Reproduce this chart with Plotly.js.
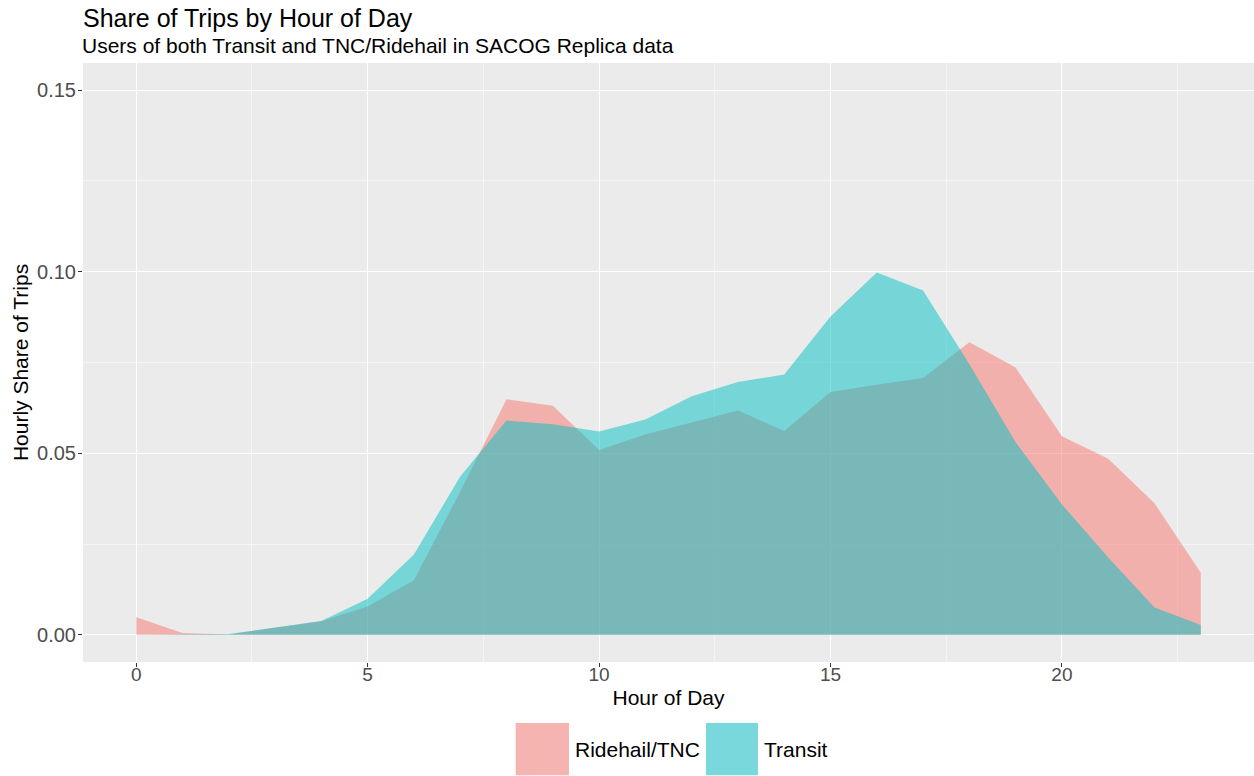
<!DOCTYPE html>
<html>
<head>
<meta charset="utf-8">
<script src="https://cdn.plot.ly/plotly-3.0.1.min.js"></script>
<style>html,body{margin:0;padding:0;background:#fff;}#chart{width:1254px;height:776px;}</style>
</head>
<body>
<div id="chart"></div>
<script>
const hours = [0,1,2,3,4,5,6,7,8,9,10,11,12,13,14,15,16,17,18,19,20,21,22,23];
const seriesNames = ["Ridehail/TNC", "Transit"];
const ridehail = [0.0048,0.0005,0.0001,0.0020,0.0037,0.0078,0.0150,0.0395,0.0649,0.0631,0.0509,0.0552,0.0584,0.0618,0.0561,0.0669,0.0689,0.0707,0.0806,0.0736,0.0547,0.0485,0.0362,0.0171];
const transit  = [0.0000,0.0000,0.0002,0.0020,0.0038,0.0099,0.0221,0.0436,0.0590,0.0580,0.0560,0.0593,0.0657,0.0696,0.0717,0.0877,0.0998,0.0948,0.0745,0.0530,0.0359,0.0213,0.0075,0.0027];
const xTicks = [0,5,10,15,20];
const yTicks = [0,0.05,0.10,0.15];

const fillColors = ["rgba(248,118,109,0.5)", "rgba(0,191,196,0.5)"];
const keyColors = ["#F5B4AF", "#79D8DB"];
const FONT = "Liberation Sans, Arial, Helvetica, sans-serif";

const traces = [ridehail, transit].map((ys, i) => ({
  x: hours, y: ys, name: seriesNames[i], type: "scatter", mode: "lines",
  fill: "tozeroy", fillcolor: fillColors[i], line: {width: 0, color: fillColors[i]},
  hoverinfo: "x+y+name", showlegend: false
}));

// legend (ggplot-style large keys) built from series names
const keyX = [[0.3695, 0.4150], [0.5320, 0.5764]];
const shapes = seriesNames.map((n, i) => ({
  type: "rect", xref: "paper", yref: "paper",
  x0: keyX[i][0], x1: keyX[i][1], y0: -0.1020, y1: -0.1890,
  fillcolor: keyColors[i], line: {width: 0}, layer: "above"
}));
const legendAnn = seriesNames.map((n, i) => ({
  text: n, xref: "paper", yref: "paper", x: keyX[i][1] + 0.0035, y: -0.1455,
  xanchor: "left", yanchor: "middle", showarrow: false,
  font: {family: FONT, size: 21, color: "#000"}
}));

const layout = {
  width: 1254, height: 776,
  paper_bgcolor: "#ffffff", plot_bgcolor: "#EBEBEB",
  margin: {l: 83, r: 0, t: 63, b: 114},
  font: {family: FONT},
  title: {
    text: "Share of Trips by Hour of Day",
    x: 83/1254, xref: "container", xanchor: "left",
    y: 1 - 18/776, yref: "container", yanchor: "middle",
    font: {family: FONT, size: 25, color: "#000"}
  },
  xaxis: {
    range: [-1.15, 24.15], tickvals: xTicks, ticktext: xTicks.map(String),
    showgrid: true, gridcolor: "#FFFFFF", gridwidth: 1.1, zeroline: false,
    ticks: "outside", ticklen: 4, tickwidth: 1, tickcolor: "#333333",
    ticklabelstandoff: -9,
    tickfont: {family: FONT, size: 19, color: "#4D4D4D"},
    minor: {dtick: 2.5, tick0: 0, showgrid: true, gridcolor: "#FFFFFF", gridwidth: 0.5, ticks: ""},
    title: {text: "Hour of Day", font: {family: FONT, size: 21, color: "#000"}, standoff: 6},
    showline: false, fixedrange: true
  },
  yaxis: {
    range: [-0.0075, 0.1575], tickvals: yTicks, ticktext: yTicks.map(v => v.toFixed(2)),
    showgrid: true, gridcolor: "#FFFFFF", gridwidth: 1.1, zeroline: false,
    ticks: "outside", ticklen: 4, tickwidth: 1, tickcolor: "#333333",
    ticklabelstandoff: -2,
    tickfont: {family: FONT, size: 20, color: "#4D4D4D"},
    minor: {dtick: 0.025, tick0: 0, showgrid: true, gridcolor: "#FFFFFF", gridwidth: 0.5, ticks: ""},
    title: {text: "Hourly Share of Trips", font: {family: FONT, size: 21, color: "#000"}, standoff: 2},
    showline: false, fixedrange: true
  },
  shapes: shapes,
  annotations: [
    {text: "Users of both Transit and TNC/Ridehail in SACOG Replica data",
     xref: "paper", yref: "paper", x: -3/1171, y: (662 - 46) / 599,
     xanchor: "left", yanchor: "middle", showarrow: false,
     font: {family: FONT, size: 21, color: "#000"}}
  ].concat(legendAnn),
  showlegend: false
};

Plotly.newPlot("chart", traces, layout, {displayModeBar: false, staticPlot: true});
</script>
</body>
</html>
